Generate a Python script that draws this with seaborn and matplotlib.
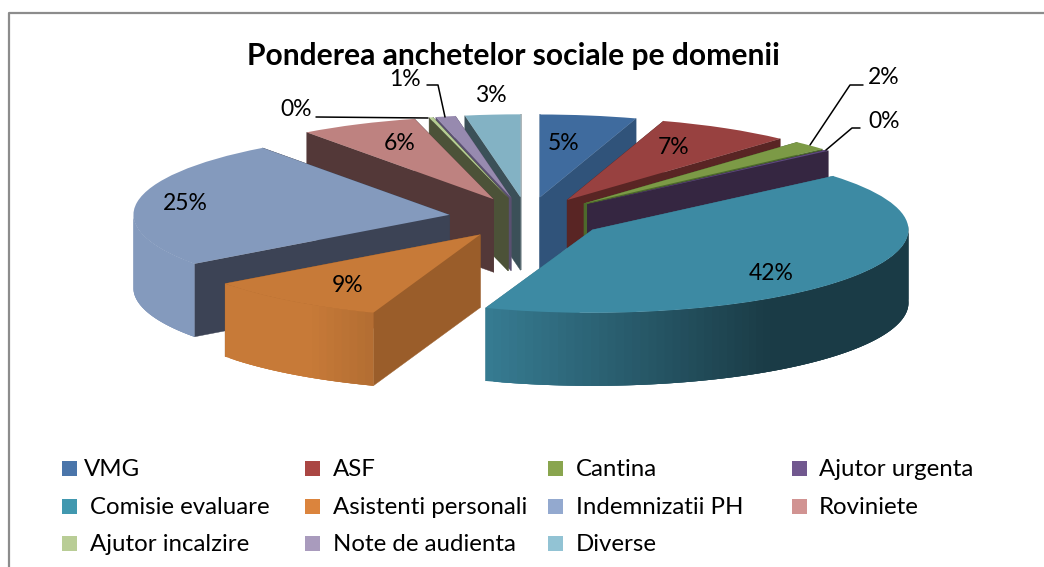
import numpy as np
import matplotlib
matplotlib.use("Agg")
import matplotlib.pyplot as plt
from matplotlib.patches import Polygon, Rectangle
import seaborn as sns

# valorile (cele de 0% sunt felii foarte subtiri)
categories = ["VMG", "ASF", "Cantina", "Ajutor urgenta", "Comisie evaluare", "Asistenti personali",
              "Indemnizatii PH", "Roviniete", "Ajutor incalzire", "Note de audienta", "Diverse"]
values = [4.9, 6.8, 1.8, 0.2, 41.4, 9.4, 24.8, 6, 0.2, 1, 2.8]
percent_labels = ["5%", "7%", "2%", "0%", "42%", "9%", "25%", "6%", "0%", "1%", "3%"]

top_colors = ["#3F6B9E", "#984140", "#7C9A46", "#5F4A80", "#3D8AA3", "#C77A38",
              "#849ABD", "#BE8280", "#B6CE93", "#978AAF", "#83B2C4"]
side_colors = ["#30537A", "#592524", "#4D6A2C", "#352641", "#36798D", "#9A5D2A",
               "#3C4355", "#533838", "#4C5238", "#5A5070", "#3B5058"]
legend_colors = ["#4A75AA", "#AA4643", "#89A54E", "#71588F", "#4198AF", "#DB843D",
                 "#93A9CF", "#D19392", "#B9CD96", "#A99BBD", "#92C3D4"]

sns.set_theme(style="white")
plt.rcParams["font.family"] = ["Lato", "DejaVu Sans"]

W, H = 1044, 567
RX, RY = 316, 83      # pixeli pe unitate de raza
CX, CY = 527.5, 218
DEPTH = 73 / RY


def arc_shade(nx):
    return float(np.clip(0.72 - 0.52 * nx, 0.43, 1.0))


def darker(color, f):
    r, g, b = matplotlib.colors.to_rgb(color)
    return (r * f, g * f, b * f)


fig = plt.figure(figsize=(W / 100, H / 100), dpi=100)
ax = fig.add_axes([0, 0, 1, 1])
wedges, _ = ax.pie(values, explode=[0.25] * len(values), colors=sns.color_palette(top_colors),
                   startangle=90, counterclock=False, wedgeprops={"linewidth": 0})
ax.set_aspect("auto")
ax.set_xlim(-CX / RX, (W - CX) / RX)
ax.set_ylim((CY - H) / RY, CY / RY)
ax.axis("off")

# felia din spate se deseneaza prima
order = sorted(range(len(wedges)), key=lambda k: -wedges[k].center[1])
for rank, k in enumerate(order):
    w = wedges[k]
    base = 3 * rank + 2
    w.set_zorder(base + 2)
    cx, cy = w.center

    for theta in (w.theta1, w.theta2):
        ex = cx + np.cos(np.radians(theta))
        ey = cy + np.sin(np.radians(theta))
        pts = [(cx, cy), (ex, ey), (ex, ey - DEPTH), (cx, cy - DEPTH)]
        ax.add_patch(Polygon(pts, closed=True, facecolor=side_colors[k], edgecolor=side_colors[k],
                             linewidth=0.3, zorder=base))

    # fiecare fateta acopera putin urmatoarea ca sa nu apara dungi
    steps = max(2, int((w.theta2 - w.theta1) / 1.5))
    angles = np.linspace(w.theta1, w.theta2, steps + 1)
    for a, b in zip(angles[:-1], angles[1:]):
        mid = np.radians((a + b) / 2)
        if np.sin(mid) >= 0:
            continue
        ts = np.radians(np.linspace(a, min(b + 3, w.theta2), 8))
        upper = np.column_stack([cx + np.cos(ts), cy + np.sin(ts)])
        lower = upper[::-1] - [0, DEPTH]
        shade = darker(top_colors[k], arc_shade(np.cos(mid)))
        ax.add_patch(Polygon(np.vstack([upper, lower]), closed=True, facecolor=shade,
                             edgecolor="none", linewidth=0, zorder=base + 1))

# strat in pixeli pentru texte, legenda si chenar
over = fig.add_axes([0, 0, 1, 1], zorder=10)
over.set_xlim(0, W)
over.set_ylim(H, 0)
over.axis("off")
over.patch.set_alpha(0)

over.plot([1044, 8.5, 8.5], [13, 13, 567], color="#8C8C8C", lw=1.6)
over.text(513.5, 56, "Ponderea anchetelor sociale pe domenii", fontsize=21.6, fontweight="bold",
          color="black", ha="center", va="center")

label_pos = [(564, 143), (674, 147), (884, 78), (884, 121), (771, 273), (348, 286),
             (185, 204), (400, 144), (296, 109), (405, 80), (491, 95)]
for txt, (x, y) in zip(percent_labels, label_pos):
    over.text(x, y, txt, fontsize=16.5, color="black", ha="center", va="center")

leaders = [([810, 850, 863], [145, 85, 85]), ([826, 852, 860], [150, 128, 128]),
           ([316, 428], [117, 118]), ([427, 438, 445], [85, 85, 117])]
for xs, ys in leaders:
    over.plot(xs, ys, color="black", lw=1.1)

square_x = [62, 305, 548, 792]
text_x = [[84, 333, 576, 819], [90, 333, 576, 819], [90, 333, 576]]
rows = [468.5, 506.5, 543.5]
for i, name in enumerate(categories):
    r, c = divmod(i, 4)
    over.add_patch(Rectangle((square_x[c], rows[r] - 7.5), 15, 15, facecolor=legend_colors[i], edgecolor="none"))
    over.text(text_x[r][c], rows[r] + 1, name, fontsize=17.3, color="black", ha="left", va="center")

fig.savefig("out.png", dpi=100)
